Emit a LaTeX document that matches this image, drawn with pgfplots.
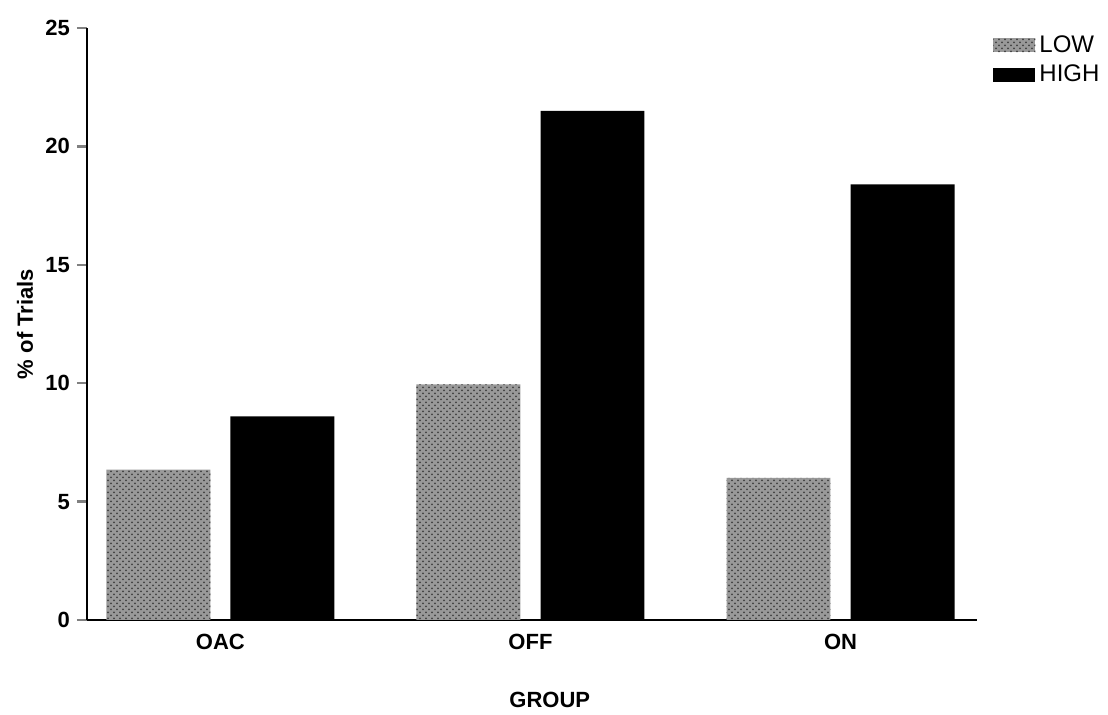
\documentclass[border=0pt]{standalone}
\usepackage{pgfplots}
\pgfplotsset{compat=1.18}
\usepackage{fontspec}
\setmainfont{Liberation Sans}
\usetikzlibrary{patterns}
\begin{document}
\begin{tikzpicture}
\begin{axis}[
  at={(0,0)}, anchor=south west,
  scale only axis,
  width=445pt, height=296pt,
  xmin=-0.43, xmax=2.44,
  ymin=0, ymax=25,
  axis lines*=left,
  axis line style={line width=1.2pt},
  xtick=data,
  xticklabels={OAC,OFF,ON},
  x tick style={draw=none},
  ytick={0,5,10,15,20,25},
  y tick style={line width=1.2pt},
  tick align=outside,
  major tick length=5pt,
  /pgf/number format/assume math mode=true,
  ticklabel style={font=\fontsize{11}{13}\selectfont\bfseries},
  xticklabel style={yshift=1.5pt},
  xlabel={GROUP},
  ylabel={\% of Trials},
  label style={font=\fontsize{11}{13}\selectfont\bfseries},
  xlabel style={at={(axis description cs:0.52,-0.135)}, anchor=center},
  ylabel style={at={(axis description cs:-0.0697,0.5)}, anchor=center},
  ybar, bar width=0.335,
  legend style={draw=none, at={(axis description cs:1.018,0.995)}, anchor=north west,
    font=\fontsize{12}{14}\selectfont, row sep=1pt, inner sep=0pt},
  legend cell align=left,
  legend image code/.code={\draw[#1,draw=none] (0pt,-3.5pt) rectangle (21pt,3.5pt);},
]
\addplot[draw=none, fill=black!40, postaction={pattern=crosshatch dots, pattern color=black!75}, bar shift=-0.2]
  coordinates {(0,6.35) (1,9.95) (2,6.0)};
\addlegendentry{LOW}
\addplot[draw=none, fill=black, bar shift=0.2]
  coordinates {(0,8.6) (1,21.5) (2,18.4)};
\addlegendentry{HIGH}
\end{axis}
\path (-43.5pt,296pt) ++(0,14pt) (510.5pt,-46.5pt);
\end{tikzpicture}
\end{document}
